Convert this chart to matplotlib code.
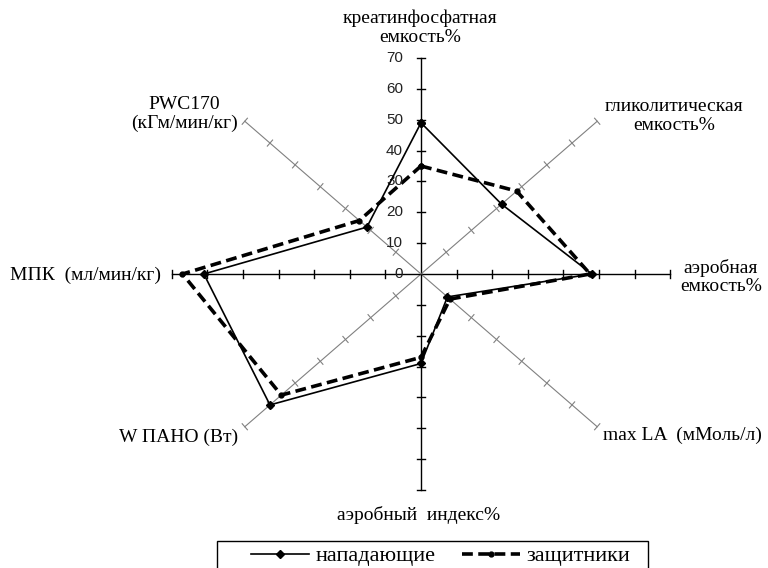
import numpy as np
import matplotlib
matplotlib.use("Agg")
import matplotlib.pyplot as plt
from matplotlib.patches import Rectangle

categories = ["креатинфосфатная\nемкость%", "гликолитическая\nемкость%",
              "аэробная\nемкость%", "max LA  (мМоль/л)", "аэробный  индекс%",
              "W ПАНО (Вт)", "МПК  (мл/мин/кг)", "PWC170\n(кГм/мин/кг)"]
forwards = [49, 32, 48, 10.5, 29, 60, 61, 21.5]
defenders = [35, 38, 47.5, 11.5, 27, 55.5, 67, 24.5]
series_names = ["нападающие", "защитники"]
rticks = [0, 10, 20, 30, 40, 50, 60, 70]
rmax = 70

W, H = 768, 568
cx, cy = 421, 274          # centre, pixels from top-left
sx, sy = 3.56, 3.086       # pixels per unit (excel stretched the radar)

fig = plt.figure(figsize=(W / 100, H / 100), dpi=100)
ax = fig.add_axes([0, 0, 1, 1])
ax.set_xlim(-cx / sx, (W - cx) / sx)
ax.set_ylim(-(H - cy) / sy, cy / sy)
ax.axis("off")

serif = ["Liberation Serif", "DejaVu Serif"]
sans = ["Liberation Sans", "DejaVu Sans"]

n = len(categories)
ang = np.arange(n) * 2 * np.pi / n
sn, cs = np.sin(ang), np.cos(ang)

# axes spokes with ticks
for k in range(n):
    main = k % 2 == 0
    col = "black" if main else "#808080"
    lw = 1.0 if main else 0.8
    ax.plot([0, rmax * sn[k]], [0, rmax * cs[k]], color=col, lw=lw, zorder=1)
    dx, dy = sn[k] * sx, cs[k] * sy
    L = np.hypot(dx, dy)
    px, py = -dy / L * 4, dx / L * 4
    for v in rticks[1:]:
        x0, y0 = v * sn[k], v * cs[k]
        ax.plot([x0 - px / sx, x0 + px / sx], [y0 - py / sy, y0 + py / sy],
                color=col, lw=lw, zorder=1)

for v in rticks:
    ax.text(-18 / sx, v, str(v), ha="right", va="center", fontsize=11,
            family=sans, color="#222222")

def closed(vals):
    v = np.array(vals + vals[:1])
    a = np.append(ang, ang[0])
    return v * np.sin(a), v * np.cos(a)

x1, y1 = closed(forwards)
x2, y2 = closed(defenders)
l1, = ax.plot(x1, y1, color="black", lw=1.2, marker="D", markersize=4.5, zorder=3)
l2, = ax.plot(x2, y2, color="black", lw=2.6, ls=(0, (3, 1.5)), marker="o",
              markersize=3.5, zorder=2)

# category labels (pixel positions)
lab_pos = [(420, 28, "center"), (674, 116, "center"), (721, 277, "center"),
           (603, 435, "left"), (419, 515, "center"), (238, 437, "right"),
           (161, 275, "right"), (184, 114, "center")]
for txt, (px_, py_, ha) in zip(categories, lab_pos):
    fig.text(px_ / W, 1 - py_ / H, txt, ha=ha, va="center", fontsize=14,
             family=serif, linespacing=1.15)

leg = fig.legend([l1, l2], series_names, loc="center",
                 bbox_to_anchor=(441 / W, 1 - 556 / H), ncol=2,
                 prop={"family": serif, "size": 16}, frameon=False,
                 handlelength=2.6, columnspacing=1.2, handletextpad=0.3,
                 borderpad=0, borderaxespad=0)
fig.add_artist(Rectangle((217 / W, -0.02), (648 - 217) / W, (568 - 541) / H + 0.02,
                         transform=fig.transFigure, fill=False,
                         edgecolor="black", lw=1.0))

fig.savefig("out.png", dpi=100)
